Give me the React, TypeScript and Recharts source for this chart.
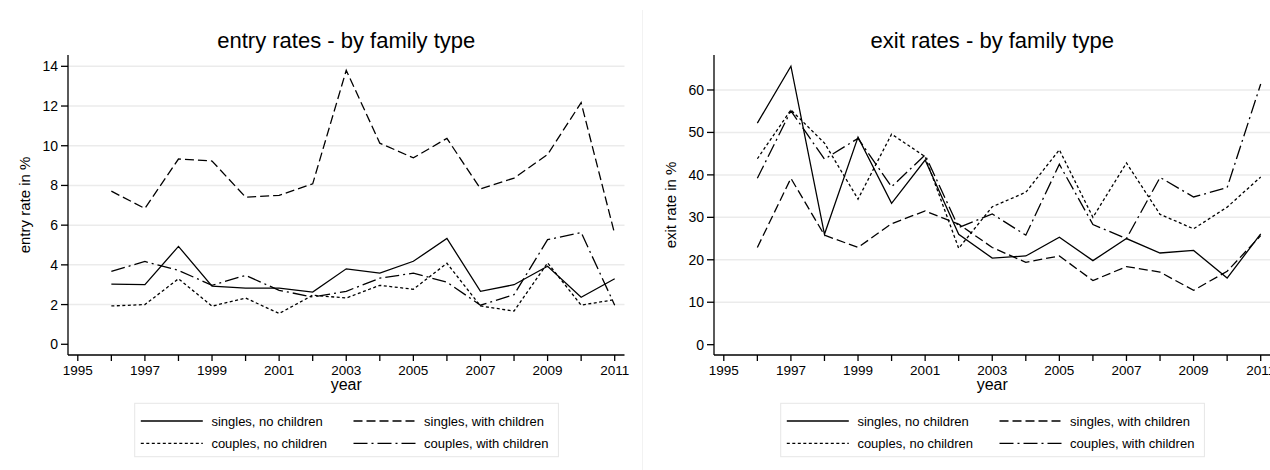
import React from 'react';
import { LineChart, Line, XAxis, YAxis, ReferenceLine } from 'recharts';

// ---------- data ----------
const years = [1996, 1997, 1998, 1999, 2000, 2001, 2002, 2003, 2004, 2005, 2006, 2007, 2008, 2009, 2010, 2011];
const xTicks = [1995, 1996, 1997, 1998, 1999, 2000, 2001, 2002, 2003, 2004, 2005, 2006, 2007, 2008, 2009, 2010, 2011];

const seriesNames = ['singles, no children', 'singles, with children', 'couples, no children', 'couples, with children'];

const entrySinglesNoChildren = [3.03, 3.0, 4.93, 2.93, 2.83, 2.83, 2.63, 3.8, 3.58, 4.18, 5.33, 2.67, 3.0, 3.93, 2.37, 3.3];
const entrySinglesWithChildren = [7.71, 6.84, 9.33, 9.23, 7.41, 7.5, 8.08, 13.8, 10.13, 9.39, 10.37, 7.83, 8.37, 9.56, 12.17, 5.55];
const entryCouplesNoChildren = [1.93, 2.0, 3.3, 1.92, 2.33, 1.55, 2.47, 2.33, 2.97, 2.77, 4.08, 1.93, 1.67, 4.1, 1.97, 2.25];
const entryCouplesWithChildren = [3.67, 4.17, 3.72, 2.97, 3.47, 2.72, 2.38, 2.67, 3.33, 3.58, 3.13, 1.97, 2.5, 5.27, 5.63, 1.97];

const exitSinglesNoChildren = [52.2, 65.6, 26.0, 48.9, 33.3, 43.5, 26.0, 20.4, 20.9, 25.3, 19.8, 25.0, 21.6, 22.2, 15.7, 26.1];
const exitSinglesWithChildren = [22.9, 39.2, 25.8, 22.9, 28.5, 31.5, 28.4, 22.9, 19.4, 20.9, 15.1, 18.4, 17.1, 12.8, 17.3, 25.7];
const exitCouplesNoChildren = [43.8, 55.3, 47.5, 34.3, 49.6, 44.3, 22.7, 32.5, 35.9, 45.9, 30.0, 42.8, 30.7, 27.3, 32.4, 39.5];
const exitCouplesWithChildren = [39.2, 55.1, 43.7, 48.6, 37.2, 44.7, 27.6, 30.8, 25.8, 42.5, 28.3, 25.0, 39.4, 34.8, 37.0, 61.4];

const entryTicks = [0, 2, 4, 6, 8, 10, 12, 14];
const entryGrid = [2, 4, 6, 8, 10, 12, 14];
const exitTicks = [0, 10, 20, 30, 40, 50, 60];
const exitGrid = [10, 20, 30, 40, 50, 60];

// ---------- styles ----------
const FONT = '"Liberation Sans", Arial, Helvetica, sans-serif';
const DASHES = ['0', '9 4', '3 2.5', '14 4 2 4'];
const PANEL_W = 646;
const H = 470;

type PanelProps = {
  left: number;
  title: string;
  yLabel: string;
  values: number[][];
  yDomain: [number, number];
  yTicks: number[];
  grid: number[];
};

function Panel({ left, title, yLabel, values, yDomain, yTicks, grid }: PanelProps) {
  const data = years.map((yr, i) => {
    const row: Record<string, number> = { year: yr };
    values.forEach((arr, k) => {
      row['s' + k] = arr[i];
    });
    return row;
  });
  const plotLeft = 68;
  const plotRight = 624.5;
  const cx = (plotLeft + plotRight) / 2;
  const legX = 134.7;
  const legW = 423.7;
  const legY = 403.3;
  const legH = 53.4;
  const cols = [140.8, 353.5];
  const rows = [421, 443.3];
  return (
    <div style={{ position: 'absolute', left, top: 0, width: PANEL_W, height: H }}>
      <LineChart
        width={PANEL_W}
        height={H}
        data={data}
        margin={{ top: 55, right: PANEL_W - plotRight, bottom: 75, left: 0 }}
      >
        <XAxis
          dataKey="year"
          type="number"
          domain={[1994.708, 2011.292]}
          ticks={xTicks}
          interval={0}
          allowDataOverflow
          tickFormatter={(v: number) => (v % 2 === 1 ? String(v) : '')}
          tickSize={6}
          tickMargin={4}
          height={40}
          axisLine={{ stroke: '#000', strokeWidth: 1.3 }}
          tickLine={{ stroke: '#000', strokeWidth: 1.3 }}
          tick={{ fill: '#000', fontSize: 13.5, fontFamily: FONT }}
        />
        <YAxis
          type="number"
          domain={yDomain}
          ticks={yTicks}
          interval={0}
          allowDataOverflow
          width={plotLeft}
          tickSize={7}
          tickMargin={3}
          axisLine={{ stroke: '#000', strokeWidth: 1.3 }}
          tickLine={{ stroke: '#000', strokeWidth: 1.3 }}
          tick={{ fill: '#000', fontSize: 14, fontFamily: FONT }}
        />
        {grid.map((g) => (
          <ReferenceLine key={g} y={g} stroke="#ebebeb" strokeWidth={1.5} />
        ))}
        {values.map((_, k) => (
          <Line
            key={k}
            dataKey={'s' + k}
            type="linear"
            stroke="#000"
            strokeWidth={1.3}
            strokeDasharray={DASHES[k]}
            dot={false}
            activeDot={false}
            isAnimationActive={false}
          />
        ))}
      </LineChart>
      <svg
        width={PANEL_W}
        height={H}
        style={{ position: 'absolute', left: 0, top: 0, pointerEvents: 'none' }}
      >
        <text x={cx} y={48} textAnchor="middle" fontFamily={FONT} fontSize={22} fill="#000">
          {title}
        </text>
        <text
          x={0}
          y={0}
          transform={`translate(29.5 205) rotate(-90)`}
          textAnchor="middle"
          fontFamily={FONT}
          fontSize={15}
          fill="#000"
        >
          {yLabel}
        </text>
        <text x={cx} y={390} textAnchor="middle" fontFamily={FONT} fontSize={16} fill="#000">
          year
        </text>
        <rect x={legX} y={legY} width={legW} height={legH} fill="#fff" stroke="#e6e6e6" strokeWidth={1} />
        {seriesNames.map((name, k) => {
          const col = k % 2;
          const row = Math.floor(k / 2);
          const x0 = cols[col];
          const y0 = rows[row];
          return (
            <g key={name}>
              <line
                x1={x0}
                x2={x0 + 62}
                y1={y0}
                y2={y0}
                stroke="#000"
                strokeWidth={1.3}
                strokeDasharray={DASHES[k]}
              />
              <text x={x0 + 70.6} y={y0 + 4.5} fontFamily={FONT} fontSize={13} fill="#000">
                {name}
              </text>
            </g>
          );
        })}
      </svg>
    </div>
  );
}

export default function App() {
  return (
    <div
      style={{
        position: 'absolute',
        left: 0,
        top: 0,
        width: 1270,
        height: 470,
        overflow: 'hidden',
        background: '#fff',
      }}
    >
      <Panel
        left={0}
        title="entry rates - by family type"
        yLabel="entry rate in %"
        values={[entrySinglesNoChildren, entrySinglesWithChildren, entryCouplesNoChildren, entryCouplesWithChildren]}
        yDomain={[-0.54, 14.57]}
        yTicks={entryTicks}
        grid={entryGrid}
      />
      <div style={{ position: 'absolute', left: 642, top: 10, width: 1, height: 460, background: '#f2f2f2' }} />
      <Panel
        left={645.9}
        title="exit rates - by family type"
        yLabel="exit rate in %"
        values={[exitSinglesNoChildren, exitSinglesWithChildren, exitCouplesNoChildren, exitCouplesWithChildren]}
        yDomain={[-2.43, 68.24]}
        yTicks={exitTicks}
        grid={exitGrid}
      />
    </div>
  );
}
